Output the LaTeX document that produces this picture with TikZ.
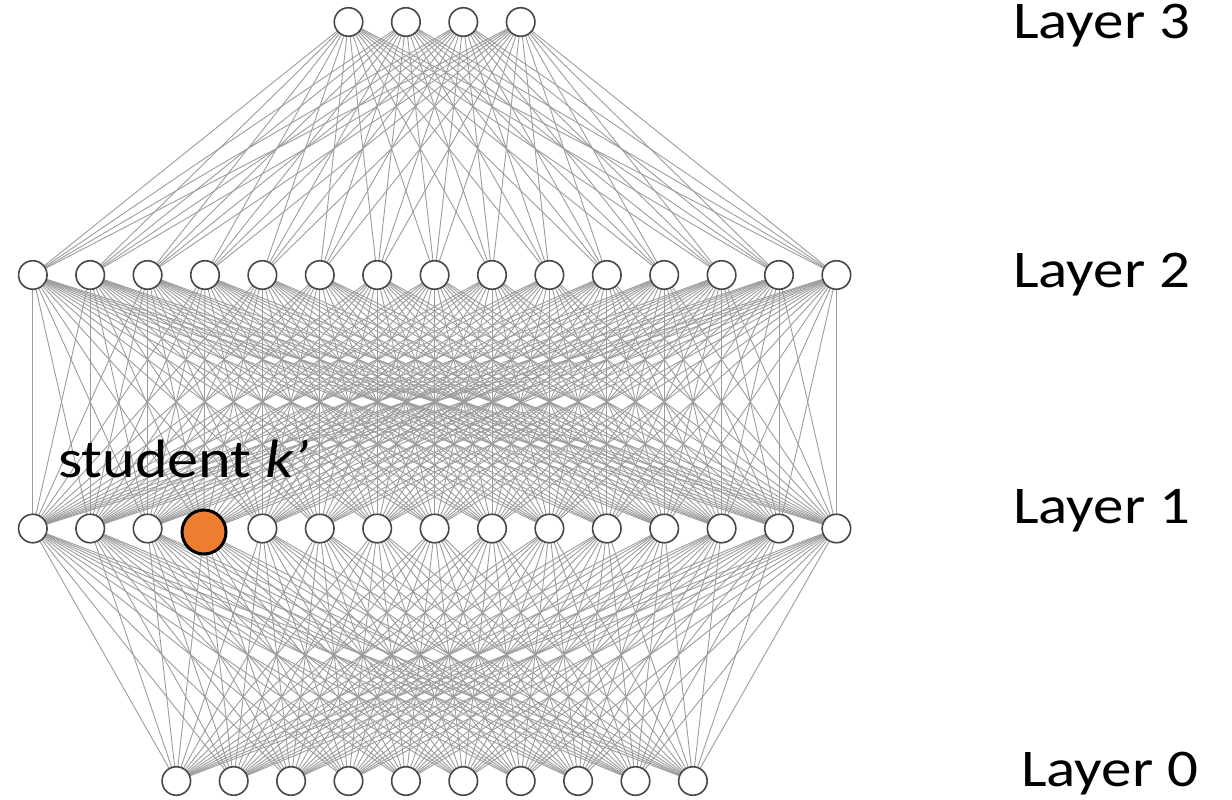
\documentclass[tikz,border=0pt]{standalone}
\usepackage{fontspec}
\setmainfont{Carlito}
\newfontfamily\labelfont[FakeStretch=1.15]{Carlito}
\usetikzlibrary{backgrounds}
\definecolor{edgegray}{HTML}{9C9C9C}
\definecolor{nodeedge}{HTML}{474747}
\definecolor{studentorange}{HTML}{ED7D31}
\begin{document}
\begin{tikzpicture}[x=1pt,y=-1pt,
  neuron/.style={circle,draw=nodeedge,line width=1.6pt,fill=white,minimum size=28.5pt,inner sep=0pt},
  student/.style={circle,draw=black,line width=3pt,fill=studentorange,minimum size=44pt,inner sep=0pt},
  link/.style={draw=edgegray,line width=0.9pt},
  layerlabel/.style={font=\labelfont\fontsize{53}{60}\selectfont,anchor=base west,inner sep=0pt}]
\useasboundingbox (0,0) rectangle (1232,800);

% Layer 3 (4 units)
\foreach \i in {1,...,4}
  \node[neuron] (c\i) at ({434.6+(\i-2.5)*57.4},22) {};
% Layer 2 (15 units)
\foreach \i in {1,...,15}
  \node[neuron] (b\i) at ({434.6+(\i-8)*57.4},275) {};
% Layer 1 (15 units, the fourth one highlighted)
\foreach \i in {1,2,3,5,6,7,8,9,10,11,12,13,14,15}
  \node[neuron] (a\i) at ({434.6+(\i-8)*57.4},528.5) {};
\node[student] (a4) at (204,532) {};
% Layer 0 (10 units)
\foreach \i in {1,...,10}
  \node[neuron] (z\i) at ({434.6+(\i-5.5)*57.4},781) {};

% full connections between consecutive layers
\begin{pgfonlayer}{background}
  \foreach \i in {1,...,4}
    \foreach \j in {1,...,15}
      \draw[link] (c\i.center) -- (b\j.center);
  \foreach \i in {1,...,15}
    \foreach \j in {1,...,15}
      \draw[link] (b\i.center) -- (a\j.center);
  \foreach \i in {1,...,15}
    \foreach \j in {1,...,10}
      \draw[link] (a\i.center) -- (z\j.center);
\end{pgfonlayer}

% labels
\node[font=\labelfont\fontsize{54}{60}\selectfont,anchor=base west,inner sep=0pt] (stlabel) at (58,477) {student \textit{k’}};
\node[layerlabel] (l3) at (1013,39) {Layer 3};
\node[layerlabel] (l2) at (1013,287) {Layer 2};
\node[layerlabel] (l1) at (1013,523) {Layer 1};
\node[layerlabel] (l0) at (1021,786) {Layer 0};
\end{tikzpicture}
\end{document}
